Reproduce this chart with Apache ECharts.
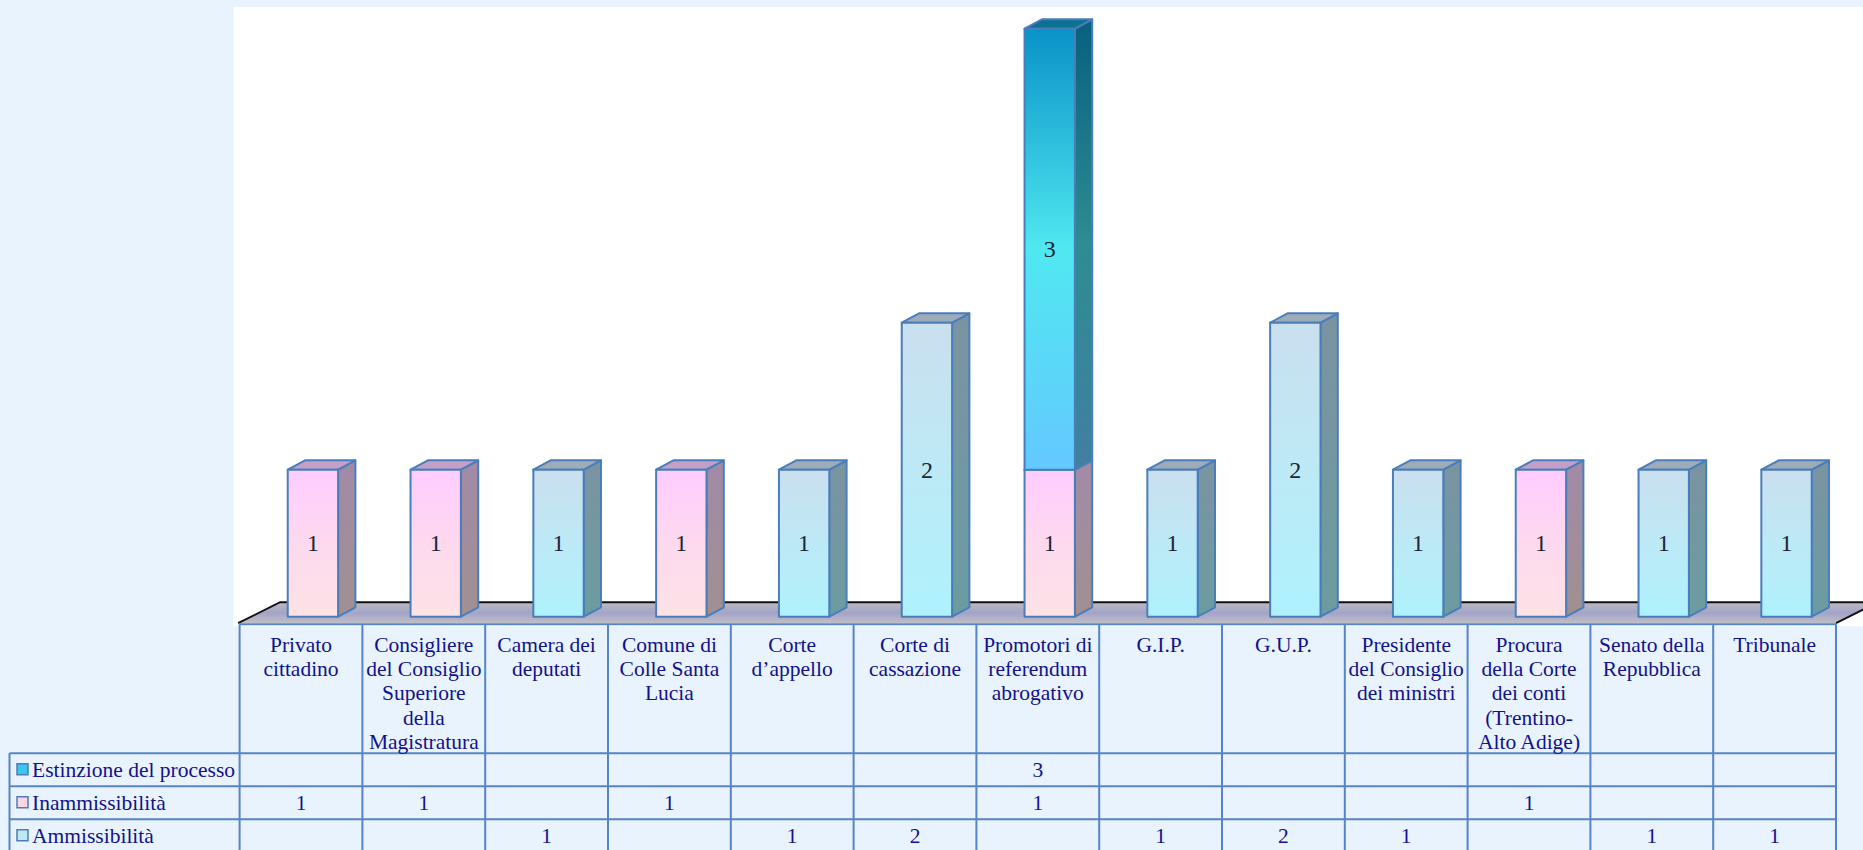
<!DOCTYPE html>
<html>
<head>
<meta charset="utf-8">
<title>Esiti per soggetto</title>
<script src="https://cdn.jsdelivr.net/npm/echarts@6/dist/echarts.min.js"></script>
<style>
  html, body { margin: 0; padding: 0; background: #e9f3fd; }
  #chart { width: 1863px; height: 850px; }
</style>
</head>
<body>
<div id="chart"></div>
<script>
// categorie (asse x) e intestazioni della tabella dati
const categories = [
  'Privato cittadino', 'Consigliere del Consiglio Superiore della Magistratura', 'Camera dei deputati',
  'Comune di Colle Santa Lucia', 'Corte d’appello', 'Corte di cassazione',
  'Promotori di referendum abrogativo', 'G.I.P.', 'G.U.P.', 'Presidente del Consiglio dei ministri',
  'Procura della Corte dei conti (Trentino-Alto Adige)', 'Senato della Repubblica', 'Tribunale'
]
const headerLabels = [
  'Privato\ncittadino', 'Consigliere\ndel Consiglio\nSuperiore\ndella\nMagistratura', 'Camera dei\ndeputati',
  'Comune di\nColle Santa\nLucia', 'Corte\nd’appello', 'Corte di\ncassazione',
  'Promotori di\nreferendum\nabrogativo', 'G.I.P.', 'G.U.P.', 'Presidente\ndel Consiglio\ndei ministri',
  'Procura\ndella Corte\ndei conti\n(Trentino-\nAlto Adige)', 'Senato della\nRepubblica', 'Tribunale'
]

// valori per serie (null = cella vuota)
const ammissibilita   = [null, null, 1, null, 1, 2, null, 1, 2, 1, null, 1, 1]
const inammissibilita = [1, 1, null, 1, null, null, 1, null, null, null, 1, null, null]
const estinzione      = [null, null, null, null, null, null, 3, null, null, null, null, null, null]

const FONT = 'Liberation Serif'
const NAVY = '#12128c'
const EDGE = '#4a7ebb'
const TXT = 21.5

// ordine di impilamento: dal basso verso l'alto
const seriesDefs = [
  { name: 'Ammissibilità', values: ammissibilita,
    front: [[0, '#cadfee'], [0.5, '#bde9f6'], [1, '#aef2fd']],
    side: [[0, '#7b93a2'], [1, '#6b9ca0']], top: '#9eabb9', key: '#bde8f6' },
  { name: 'Inammissibilità', values: inammissibilita,
    front: [[0, '#ffccff'], [0.5, '#fdd9ee'], [1, '#fde2e5']],
    side: [[0, '#a28aa8'], [1, '#a09090']], top: '#c4a0c8', key: '#fdd6e4' },
  { name: 'Estinzione del processo', values: estinzione,
    front: [[0, '#0a92c8'], [0.5, '#50e8f0'], [1, '#64c8ff']],
    side: [[0, '#08607e'], [0.5, '#2e8c92'], [1, '#4080a0']], top: '#0b7294', key: '#3cc6ee' },
]
// righe della tabella: dall'alto verso il basso
const tableRows = [seriesDefs[2], seriesDefs[1], seriesDefs[0]]

const grad = stops => new echarts.graphic.LinearGradient(0, 0, 0, 1,
  stops.map(([offset, color]) => ({ offset, color })))

const bar3d = def => (params, api) => {
  const i = api.value(0)
  const b = api.coord([i, api.value(1)])
  const t = api.coord([i, api.value(2)])
  const band = api.size([1, 0])[0]
  const w = band * 0.41
  const cx = b[0] + band * 0.097
  const x0 = cx - w / 2, x1 = cx + w / 2, yB = b[1], yT = t[1]
  const dx = band * 0.141, dy = -band * 0.076
  const line = { stroke: EDGE, lineWidth: 2, lineJoin: 'round' }
  return {
    type: 'group',
    children: [
      { type: 'polygon', shape: { points: [[x1, yT], [x1 + dx, yT + dy], [x1 + dx, yB + dy], [x1, yB]] },
        style: { fill: grad(def.side), ...line } },
      { type: 'polygon', shape: { points: [[x0, yT], [x1, yT], [x1 + dx, yT + dy], [x0 + dx, yT + dy]] },
        style: { fill: def.top, ...line } },
      { type: 'polygon', shape: { points: [[x0, yT], [x1, yT], [x1, yB], [x0, yB]] },
        style: { fill: grad(def.front), ...line } },
      { type: 'text', style: { text: String(api.value(3)), x: cx, y: (yT + yB) / 2,
        align: 'center', verticalAlign: 'middle', fontSize: 24, fontFamily: FONT, fill: '#1b2635' } },
    ],
  }
}

const totals = categories.map(() => 0)
const series = seriesDefs.map(def => {
  const data = []
  def.values.forEach((v, i) => {
    if (!v) return
    data.push([i, totals[i], totals[i] + v, v])
    totals[i] += v
  })
  return { type: 'custom', name: def.name, data, encode: { x: 0, y: 2 }, renderItem: bar3d(def), z: 3 }
})

const chart = echarts.init(document.getElementById('chart'), null, { renderer: 'svg' })

chart.setOption({
  backgroundColor: '#e9f3fd',
  animation: false,
  grid: { left: 239.6, right: 27, top: 28.7, bottom: 233.3 },
  xAxis: {
    type: 'category', data: categories,
    axisLine: { show: false }, axisTick: { show: false }, splitLine: { show: false },
    axisLabel: {
      interval: 0, margin: 16, formatter: (v, i) => headerLabels[i],
      color: NAVY, fontFamily: FONT, fontSize: TXT, lineHeight: 24.3, align: 'center',
    },
  },
  yAxis: { type: 'value', min: 0, max: 4, show: false },
  series,
})

// tabella dati, pavimento 3D e area bianca
const px = i => chart.convertToPixel({ xAxisIndex: 0 }, i)
const band = px(1) - px(0)
const tLeft = px(0) - band / 2
const tRight = px(categories.length - 1) + band / 2
const zeroY = chart.convertToPixel({ yAxisIndex: 0 }, 0)
const headTop = zeroY + 7.5
const headBottom = headTop + 129
const rowH = 33
const legendLeft = 9.5

const g = []
g.push({ type: 'rect', z: -10, shape: { x: tLeft - 6, y: 7, width: 1863, height: headTop - 5 },
  style: { fill: '#ffffff' } })

const fl = [[tLeft - 1.5, headTop - 1], [tLeft + 40.5, headTop - 22], [tRight + 42, headTop - 22], [tRight, headTop - 1]]
g.push({ type: 'polygon', z: -5, shape: { points: fl },
  style: { fill: new echarts.graphic.LinearGradient(0, 0, 0, 1, [
    { offset: 0, color: '#bcbcc2' }, { offset: 0.5, color: '#a3a3c9' }, { offset: 1, color: '#bfbfc6' }]) } })
g.push({ type: 'polyline', z: -4, shape: { points: [fl[0], fl[1], fl[2], fl[3]] },
  style: { stroke: '#111111', lineWidth: 2, fill: null } })

const lineStyle = { stroke: '#5585c4', lineWidth: 2 }
// linee verticali
for (let c = 0; c <= categories.length; c++) {
  const x = tLeft + c * band
  g.push({ type: 'line', shape: { x1: x, y1: headTop, x2: x, y2: headBottom + rowH * 3 }, style: lineStyle })
}
g.push({ type: 'line', shape: { x1: legendLeft, y1: headBottom, x2: legendLeft, y2: headBottom + rowH * 3 }, style: lineStyle })
// linee orizzontali
g.push({ type: 'line', shape: { x1: tLeft, y1: headTop, x2: tRight, y2: headTop }, style: lineStyle })
for (let r = 0; r <= 3; r++) {
  const y = headBottom + r * rowH
  g.push({ type: 'line', shape: { x1: legendLeft, y1: y, x2: tRight, y2: y }, style: lineStyle })
}
// legenda e valori
tableRows.forEach((def, r) => {
  const cy = headBottom + r * rowH + rowH / 2
  g.push({ type: 'rect', shape: { x: 17, y: cy - 6, width: 11, height: 11 },
    style: { fill: def.key, stroke: EDGE, lineWidth: 1.5 } })
  g.push({ type: 'text', style: { text: def.name, x: 32, y: cy, align: 'left', verticalAlign: 'middle',
    fontSize: TXT, fontFamily: FONT, fill: NAVY } })
  def.values.forEach((v, i) => {
    if (v == null) return
    g.push({ type: 'text', style: { text: String(v), x: px(i), y: cy, align: 'center', verticalAlign: 'middle',
      fontSize: TXT, fontFamily: FONT, fill: NAVY } })
  })
})

chart.setOption({ graphic: { elements: g } })
</script>
</body>
</html>
